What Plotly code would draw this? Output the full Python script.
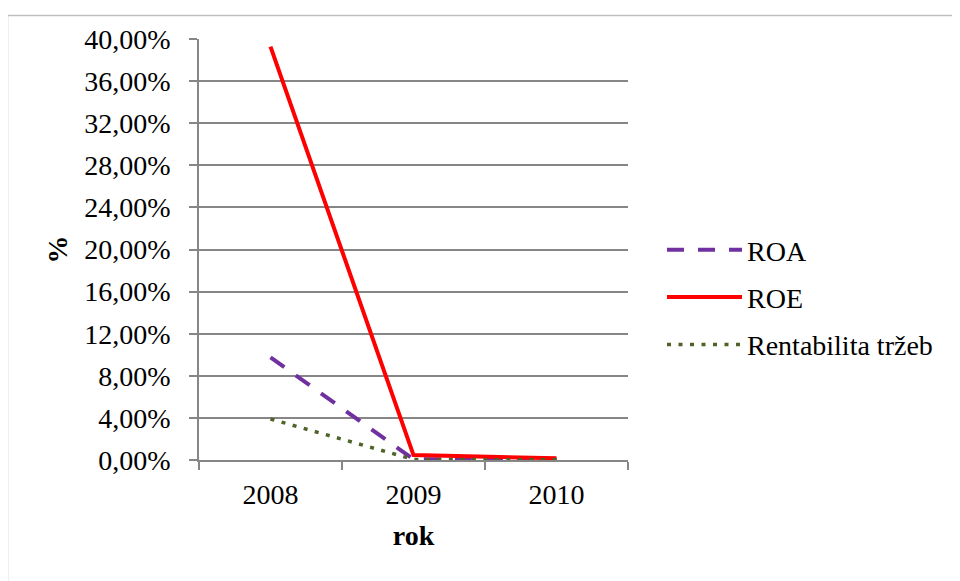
import plotly.graph_objects as go

years = ["2008", "2009", "2010"]
roa = [0.0976, 0.0007, 0.0002]
roe = [0.3927, 0.0047, 0.0016]
rent = [0.039, 0.0005, 0.0002]
y_ticks = [i * 0.04 for i in range(11)]

font_family = "Liberation Serif"

fig = go.Figure()
fig.add_trace(go.Scatter(x=years, y=roa, name="ROA", mode="lines", legendgroup="a",
                         line=dict(color="#7030A0", width=4, dash="17px,14px")))
fig.add_trace(go.Scatter(x=years, y=roe, name="ROE", mode="lines", legendgroup="b",
                         line=dict(color="#FF0000", width=4)))
fig.add_trace(go.Scatter(x=years, y=rent, name="Rentabilita tržeb", mode="lines", legendgroup="c",
                         line=dict(color="#4F6228", width=3.5, dash="4px,7.5px")))

# page has an 8px body margin; work in screenshot coordinates and shift
OFF = 8
L, R, T, B = 199 - OFF, 628 - OFF, 39 - OFF, 460 - OFF
W, H = 960 - OFF, 581 - OFF

def px(x):
    return (x - OFF - L) / (R - L)

def py(y):
    return (B - (y - OFF)) / (B - T)

fig.update_layout(
    width=W, height=H,
    margin=dict(l=L, r=W - R, t=T, b=H - B),
    paper_bgcolor="white", plot_bgcolor="white",
    separators=", ",
    font=dict(family=font_family, size=28, color="black"),
    showlegend=True,
    legend=dict(x=px(662), y=py(225), xanchor="left", yanchor="top",
                font=dict(size=28, family=font_family), tracegroupgap=8,
                itemwidth=75, bgcolor="rgba(0,0,0,0)"),
    xaxis=dict(type="category", range=[-0.5, 2.5], showgrid=False,
               showline=True, linecolor="#868686", linewidth=1.5,
               ticks="outside", tickson="boundaries", ticklen=8, tickcolor="#868686", tickwidth=1.5,
               tickfont=dict(size=28), ticklabelstandoff=9,
               title=dict(text="<b>rok</b>", font=dict(size=28), standoff=16)),
    yaxis=dict(range=[0, 0.40], tickvals=y_ticks, tickformat=".2%",
               showgrid=True, gridcolor="#868686", gridwidth=1.5,
               showline=True, linecolor="#868686", linewidth=1.5,
               ticks="outside", ticklen=8, tickcolor="#868686", tickwidth=1.5,
               tickfont=dict(size=28), zeroline=False, ticklabelstandoff=13,
               title=dict(text="<b>%</b>", font=dict(size=28), standoff=9)),
    shapes=[dict(type="rect", xref="paper", yref="paper",
                 x0=px(7.5), x1=px(990), y0=py(15.5), y1=py(620),
                 line=dict(color="#BFBFBF", width=1.5), fillcolor="rgba(0,0,0,0)", layer="below")],
)

fig.write_html("out.html")
